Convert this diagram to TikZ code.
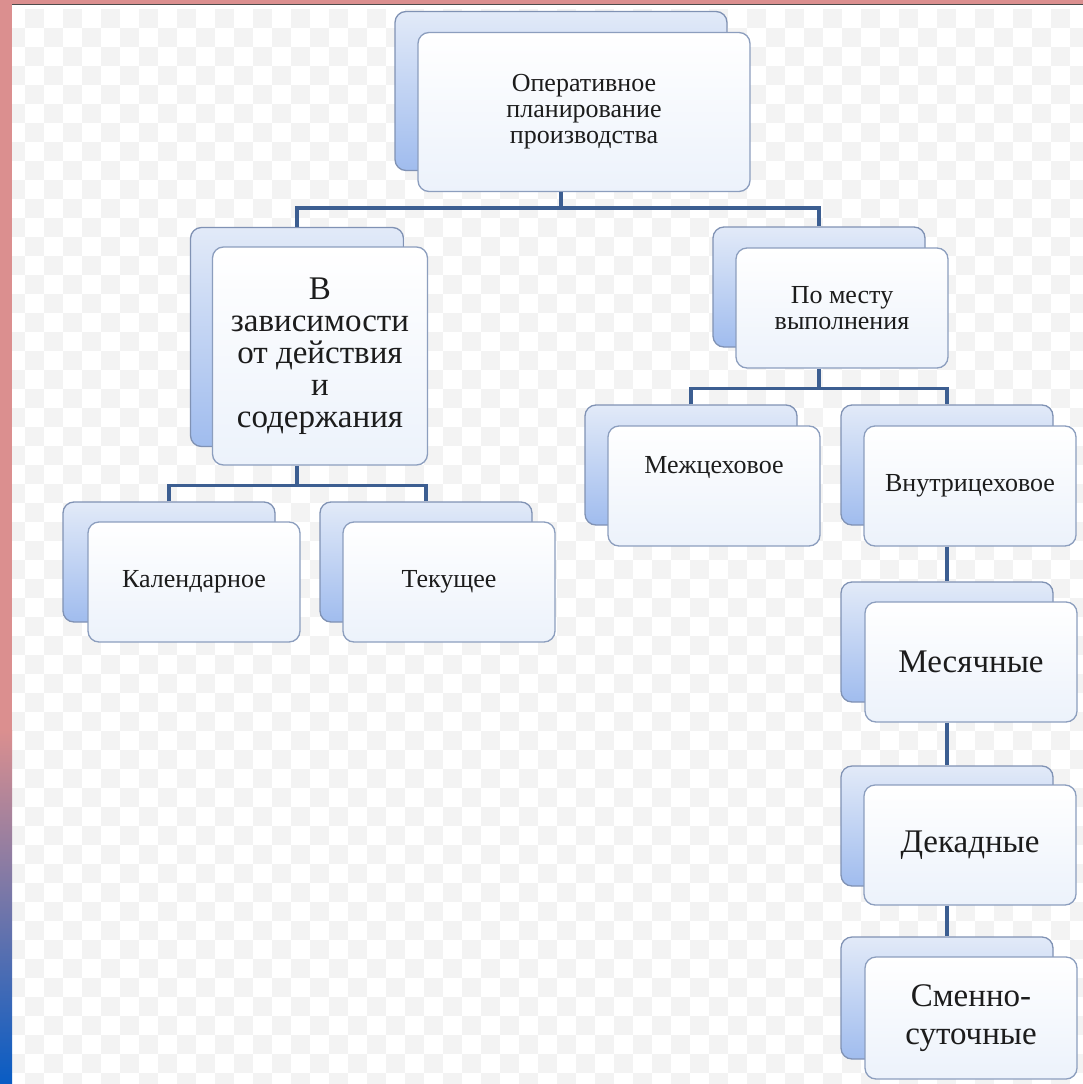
\documentclass[tikz,border=0pt]{standalone}
\usepackage{fontspec}
\setmainfont{Liberation Serif}
\usepackage{xcolor}

\definecolor{stripepink}{RGB}{219,143,143}
\definecolor{stripeblue}{RGB}{8,92,196}
\definecolor{linkblue}{RGB}{60,94,145}
\definecolor{cardedge}{RGB}{140,158,190}
\definecolor{cardlow}{RGB}{236,242,251}
\definecolor{backedge}{RGB}{128,146,180}
\definecolor{backtop}{RGB}{226,234,248}
\definecolor{backlow}{RGB}{160,188,238}
\definecolor{ink}{RGB}{28,28,28}
\definecolor{checker}{RGB}{243,243,243}

\tikzset{
    card/.style={draw=cardedge, line width=1.3pt, rounded corners=11pt,
        top color=white, bottom color=cardlow, text=ink, align=center,
        inner sep=0pt, minimum width=212pt, minimum height=120pt,
        font=\fontsize{26}{26}\selectfont},
    cardback/.style={draw=backedge, line width=1.3pt, rounded corners=11pt,
        top color=backtop, bottom color=backlow, inner sep=0pt,
        minimum width=212pt, minimum height=120pt},
    bigtext/.style={font=\fontsize{33}{32}\selectfont},
    link/.style={draw=linkblue, line width=3.5pt},
}

\begin{document}
\begin{tikzpicture}[x=1pt, y=-1pt]
    \useasboundingbox (0,0) rectangle (1083,1084);

    % Background: checkerboard and border stripes
    \fill[white] (0,0) rectangle (1083,1084);
    \begin{scope}
        \clip (12,5) rectangle (1083,1084);
        \foreach \r in {0,...,28}
            \foreach \c in {0,...,28} {
                \fill[checker] (25+38*\c, 9+38*\r) rectangle ++(19,19);
                \fill[checker] (6+38*\c, 28+38*\r) rectangle ++(19,19);
            }
    \end{scope}
    \fill[stripepink] (0,0) rectangle (1083,4);
    \fill[stripepink] (0,0) rectangle (12,730);
    \shade[top color=stripepink, bottom color=stripeblue] (0,730) rectangle (12,1084);
    \draw[gray!60!black, line width=1.2pt] (12,4.6) -- (1083,4.6);

    % Root
    \node[cardback, minimum width=332pt, minimum height=159pt] (planB) at (561,91) {};
    \node[card, minimum width=332pt, minimum height=159pt] (plan) at ([shift={(23,21)}]planB)
        {Оперативное\\планирование\\производства};

    % Left branch
    \node[cardback, minimum width=213pt, minimum height=219pt] (depB) at (297,337) {};
    \node[card, bigtext, minimum width=215pt, minimum height=218pt] (dep) at ([shift={(23,19)}]depB)
        {В\\зависимости\\от действия\\и\\содержания};

    \node[cardback] (calB) at (169,562) {};
    \node[card] (cal) at ([shift={(25,20)}]calB) {Календарное};

    \node[cardback] (curB) at (426,562) {};
    \node[card] (cur) at ([shift={(23,20)}]curB) {Текущее};

    % Right branch
    \node[cardback] (placeB) at (819,287) {};
    \node[card] (place) at ([shift={(23,21)}]placeB) {По месту\\выполнения};

    \node[cardback] (interB) at (691,465) {};
    \node[card] (inter) at ([shift={(23,21)}]interB) {\raisebox{19pt}[\height][\depth]{Межцеховое}};

    \node[cardback] (intraB) at (947,465) {};
    \node[card] (intra) at ([shift={(23,21)}]intraB) {Внутрицеховое};

    \node[cardback] (monB) at (947,642) {};
    \node[card, bigtext] (mon) at ([shift={(24,20)}]monB) {Месячные};

    \node[cardback] (decB) at (947,826) {};
    \node[card, bigtext] (dec) at ([shift={(23,19)}]decB) {Декадные};

    \node[cardback, minimum height=122pt] (dayB) at (947,998) {};
    \node[card, bigtext, font=\fontsize{33}{38}\selectfont, minimum height=122pt] (day)
        at ([shift={(24,20)}]dayB) {Сменно-\\суточные};

    % Connectors
    \draw[link] (planB |- plan.south) -- ++(0,16) coordinate (j1);
    \draw[link] (depB.north) |- (j1) -| (placeB.north);

    \draw[link] (depB |- dep.south) -- ++(0,20) coordinate (j2);
    \draw[link] (calB.north) |- (j2) -| (curB.north);

    \draw[link] (placeB |- place.south) -- ++(0,20) coordinate (j3);
    \draw[link] (interB.north) |- (j3) -| (intraB.north);

    \draw[link] (intraB |- intra.south) -- (monB.north);
    \draw[link] (monB |- mon.south) -- (decB.north);
    \draw[link] (decB |- dec.south) -- (dayB.north);
\end{tikzpicture}
\end{document}
